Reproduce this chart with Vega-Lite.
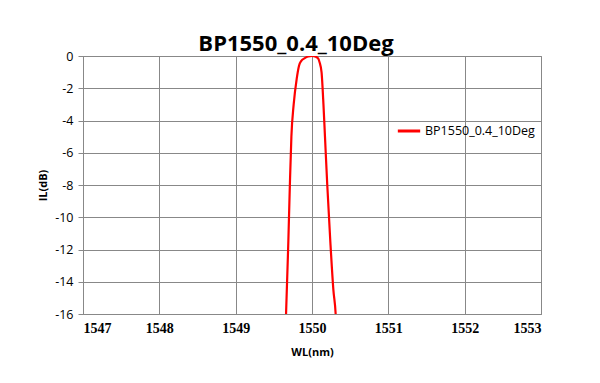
{
  "$schema": "https://vega.github.io/schema/vega-lite/v6.json",
  "width": 458,
  "height": 258,
  "autosize": {"type": "none"},
  "padding": {"left": 83, "top": 56, "right": 59, "bottom": 69},
  "background": "white",
  "title": {"text": "BP1550_0.4_10Deg", "fontSize": 22, "font": "Open Sans", "fontWeight": "bold", "color": "#000000", "anchor": "middle", "dx": -16, "offset": 0, "baseline": "bottom", "dy": 28},
  "data": {"values": [
    {"wl": 1549.65, "il": -17, "s": "BP1550_0.4_10Deg"},
    {"wl": 1549.66, "il": -16, "s": "BP1550_0.4_10Deg"},
    {"wl": 1549.69, "il": -11.5, "s": "BP1550_0.4_10Deg"},
    {"wl": 1549.71, "il": -8, "s": "BP1550_0.4_10Deg"},
    {"wl": 1549.73, "il": -5, "s": "BP1550_0.4_10Deg"},
    {"wl": 1549.76, "il": -3, "s": "BP1550_0.4_10Deg"},
    {"wl": 1549.8, "il": -1.4, "s": "BP1550_0.4_10Deg"},
    {"wl": 1549.83, "il": -0.6, "s": "BP1550_0.4_10Deg"},
    {"wl": 1549.86, "il": -0.3, "s": "BP1550_0.4_10Deg"},
    {"wl": 1549.9, "il": -0.15, "s": "BP1550_0.4_10Deg"},
    {"wl": 1549.95, "il": -0.03, "s": "BP1550_0.4_10Deg"},
    {"wl": 1550.0, "il": 0, "s": "BP1550_0.4_10Deg"},
    {"wl": 1550.05, "il": -0.05, "s": "BP1550_0.4_10Deg"},
    {"wl": 1550.08, "il": -0.15, "s": "BP1550_0.4_10Deg"},
    {"wl": 1550.1, "il": -0.4, "s": "BP1550_0.4_10Deg"},
    {"wl": 1550.125, "il": -1, "s": "BP1550_0.4_10Deg"},
    {"wl": 1550.15, "il": -3, "s": "BP1550_0.4_10Deg"},
    {"wl": 1550.17, "il": -5, "s": "BP1550_0.4_10Deg"},
    {"wl": 1550.2, "il": -8, "s": "BP1550_0.4_10Deg"},
    {"wl": 1550.24, "il": -11.5, "s": "BP1550_0.4_10Deg"},
    {"wl": 1550.28, "il": -14.5, "s": "BP1550_0.4_10Deg"},
    {"wl": 1550.31, "il": -16, "s": "BP1550_0.4_10Deg"},
    {"wl": 1550.32, "il": -17, "s": "BP1550_0.4_10Deg"}
  ]},
  "mark": {"type": "line", "clip": true, "strokeWidth": 2.2, "interpolate": "monotone"},
  "encoding": {
    "x": {"field": "wl", "type": "quantitative", "scale": {"domain": [1547, 1553], "nice": false, "zero": false},
      "axis": {"title": "WL(nm)", "values": [1547, 1548, 1549, 1550, 1551, 1552, 1553], "format": "d", "grid": true, "gridColor": "#888888", "gridWidth": 1, "domainColor": "#888888", "ticks": false, "labelPadding": 7,
        "labelFont": "Liberation Serif", "labelFontWeight": "bold", "labelFontSize": 14, "labelColor": "#000000",
        "titleFont": "Open Sans", "titleFontWeight": "bold", "titleFontSize": 11, "titleColor": "#000000", "titlePadding": 11}},
    "y": {"field": "il", "type": "quantitative", "scale": {"domain": [-16, 0], "nice": false, "zero": false},
      "axis": {"title": "IL(dB)", "values": [-16, -14, -12, -10, -8, -6, -4, -2, 0], "labelExpr": "datum.value + ''", "grid": true, "gridColor": "#888888", "gridWidth": 1, "domainColor": "#888888", "tickColor": "#888888", "tickSize": 5, "labelPadding": 5,
        "labelFont": "Open Sans", "labelFontSize": 12.5, "labelColor": "#000000",
        "titleFont": "Open Sans", "titleFontWeight": "bold", "titleFontSize": 11, "titleColor": "#000000", "titlePadding": 6}},
    "color": {"field": "s", "type": "nominal", "scale": {"range": ["#ff0000"]},
      "legend": {"title": null, "orient": "none", "legendX": 313, "legendY": 62, "symbolType": "stroke", "symbolStrokeWidth": 3, "symbolSize": 500, "labelFont": "Open Sans", "labelFontSize": 12.5, "labelColor": "#000000", "labelOffset": 3}}
  },
  "config": {"view": {"stroke": "#888888"}}
}
